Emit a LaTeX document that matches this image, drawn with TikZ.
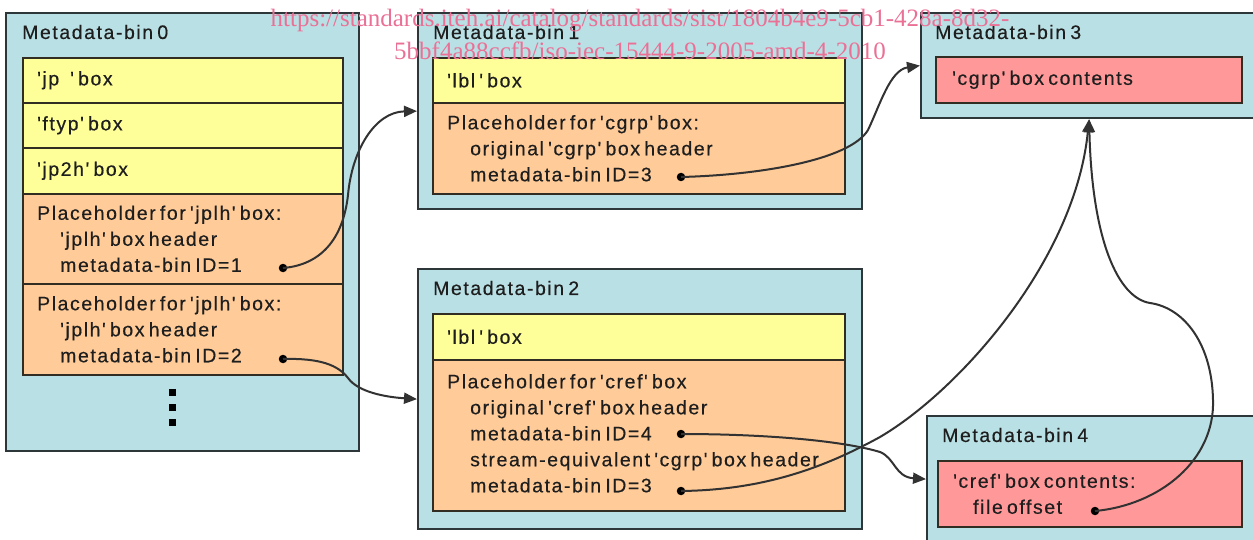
\documentclass[tikz,border=0pt]{standalone}
\usepackage{fontspec}
\usetikzlibrary{arrows.meta}
\newfontfamily\labelfont[Ligatures=TeXOff,LetterSpace=8,WordSpace=0.6,FakeBold=0.4]{Liberation Sans}
\newfontfamily\markfont{Liberation Serif}
\definecolor{binfill}{RGB}{185,224,228}
\definecolor{binline}{RGB}{45,55,58}
\definecolor{plainrow}{RGB}{255,255,153}
\definecolor{holdrow}{RGB}{255,204,153}
\definecolor{datarow}{RGB}{255,153,153}
\definecolor{rowline}{RGB}{50,45,35}
\definecolor{linkgray}{RGB}{50,50,50}
\definecolor{inktext}{RGB}{30,30,30}
\definecolor{markpink}{RGB}{235,112,150}
\newcommand\ind{\hspace*{23pt}}
\begin{document}
\begin{tikzpicture}[x=1pt,y=-1pt,
  bin/.style={draw=binline, fill=binfill, line width=2.2pt, anchor=north west, inner sep=0pt},
  row/.style={draw=rowline, line width=1.6pt, anchor=north west, inner sep=0pt},
  plain/.style={row, fill=plainrow},
  hold/.style={row, fill=holdrow},
  data/.style={row, fill=datarow},
  txt/.style={anchor=west, align=left, inner sep=0pt, text=inktext,
    font=\labelfont\fontsize{19.5}{26}\selectfont},
  srcdot/.style={circle, fill=black, minimum size=8.5pt, inner sep=0pt},
  moredot/.style={rectangle, fill=black, minimum size=7pt, inner sep=0pt},
  link/.style={draw=linkgray, line width=2pt, -{Triangle[length=13pt,width=11pt]}},
  notemark/.style={anchor=base, inner sep=0pt, text=markpink,
    font=\markfont\fontsize{25}{33}\selectfont}
]
\useasboundingbox (0,0) rectangle (1253,540);
\clip (0,0) rectangle (1253,540);

% ---- Metadata-bin 0 ----
\node[bin, minimum width=353pt, minimum height=438pt] (bin0) at (5,12) {};
\node[txt] (t0) at (22,32) {Metadata-bin 0};
\node[plain, minimum width=320pt, minimum height=45pt] (r0a) at (22,57) {};
\node[plain, minimum width=320pt, minimum height=45pt] (r0b) at (22,102) {};
\node[plain, minimum width=320pt, minimum height=46pt] (r0c) at (22,147) {};
\node[hold,  minimum width=320pt, minimum height=90pt] (r0d) at (22,193) {};
\node[hold,  minimum width=320pt, minimum height=91pt] (r0e) at (22,283) {};
\node[txt] (x0a) at ([xshift=15pt]r0a.west) {'jp\hspace{11pt}' box};
\node[txt] (x0b) at ([xshift=15pt]r0b.west) {'ftyp' box};
\node[txt] (x0c) at ([xshift=15pt]r0c.west) {'jp2h' box};
\node[txt] (x0d) at ([xshift=15pt]r0d.west) {Placeholder for 'jplh' box:\\\ind'jplh' box header\\\ind metadata-bin ID=1};
\node[txt] (x0e) at ([xshift=15pt]r0e.west) {Placeholder for 'jplh' box:\\\ind'jplh' box header\\\ind metadata-bin ID=2};
\node[moredot] (m1) at (172,392) {};
\node[moredot] (m2) at (172,407) {};
\node[moredot] (m3) at (172,422) {};

% ---- Metadata-bin 1 ----
\node[bin, minimum width=444pt, minimum height=196pt] (bin1) at (417,12) {};
\node[txt] (t1) at (433,32) {Metadata-bin 1};
\node[plain, minimum width=412pt, minimum height=45pt] (r1a) at (432,57) {};
\node[hold,  minimum width=412pt, minimum height=91pt] (r1b) at (432,102) {};
\node[txt] (x1a) at ([xshift=15pt]r1a.west) {'lbl ' box};
\node[txt] (x1b) at ([xshift=15pt]r1b.west) {Placeholder for 'cgrp' box:\\\ind original 'cgrp' box header\\\ind metadata-bin ID=3};

% ---- Metadata-bin 2 ----
\node[bin, minimum width=444pt, minimum height=260pt] (bin2) at (417,268) {};
\node[txt] (t2) at (433,288) {Metadata-bin 2};
\node[plain, minimum width=412pt, minimum height=46pt] (r2a) at (432,313) {};
\node[hold,  minimum width=412pt, minimum height=151pt] (r2b) at (432,359) {};
\node[txt] (x2a) at ([xshift=15pt]r2a.west) {'lbl ' box};
\node[txt] (x2b) at ([xshift=15pt,yshift=2pt]r2b.west) {Placeholder for 'cref' box\\\ind original 'cref' box header\\\ind metadata-bin ID=4\\\ind stream-equivalent 'cgrp' box header\\\ind metadata-bin ID=3};

% ---- Metadata-bin 3 ----
\node[bin, minimum width=336pt, minimum height=105pt] (bin3) at (920,12) {};
\node[txt] (t3) at (935,32) {Metadata-bin 3};
\node[data, minimum width=306pt, minimum height=46pt] (r3) at (935,56) {};
\node[txt] (x3) at ([xshift=17pt]r3.west) {'cgrp' box contents};

% ---- Metadata-bin 4 ----
\node[bin, minimum width=330pt, minimum height=126pt] (bin4) at (926,415) {};
\node[txt] (t4) at (942,435) {Metadata-bin 4};
\node[data, minimum width=304pt, minimum height=66pt] (r4) at (937,460) {};
\node[txt] (x4) at ([xshift=16pt]r4.west) {'cref' box contents:\\\hspace*{20pt}file offset};

% ---- reference points ----
\node[srcdot] (d1) at (283,268) {};
\node[srcdot] (d2) at (283,359) {};
\node[srcdot] (d3) at (681,177) {};
\node[srcdot] (d4) at (681,434) {};
\node[srcdot] (d5) at (681,491) {};
\node[srcdot] (d6) at (1095,511) {};

% ---- links between bins ----
\draw[link] (d1.center) .. controls (320,265) and (343,240) .. (348,195)
  .. controls (352,150) and (375,112) .. (bin1.west);
\draw[link] (d2.center) .. controls (320,358) and (338,365) .. (348,378)
  .. controls (358,392) and (385,397) .. (bin2.west);
\draw[link] (d3.center) .. controls (760,175) and (850,160) .. (868,130)
  .. controls (880,105) and (890,70) .. (bin3.west);
\draw[link] (d4.center) .. controls (760,434) and (840,440) .. (880,452)
  .. controls (895,458) and (895,477) .. (bin4.west);
\draw[link] (d5.center) .. controls (760,490) and (820,470) .. (880,437)
  .. controls (960,390) and (1075,260) .. (bin3.south);
\draw[link] (d6.center) .. controls (1160,505) and (1215,460) .. (1213,400)
  .. controls (1212,345) and (1185,308) .. (1150,303)
  .. controls (1118,298) and (1092,240) .. (bin3.south);

% ---- source note ----
\node[notemark] (wm1) at (640,27) {https://standards.iteh.ai/catalog/standards/sist/1804b4e9-5cb1-428a-8d32-};
\node[notemark] (wm2) at (640,60) {5bbf4a88ccfb/iso-iec-15444-9-2005-amd-4-2010};
\end{tikzpicture}
\end{document}
